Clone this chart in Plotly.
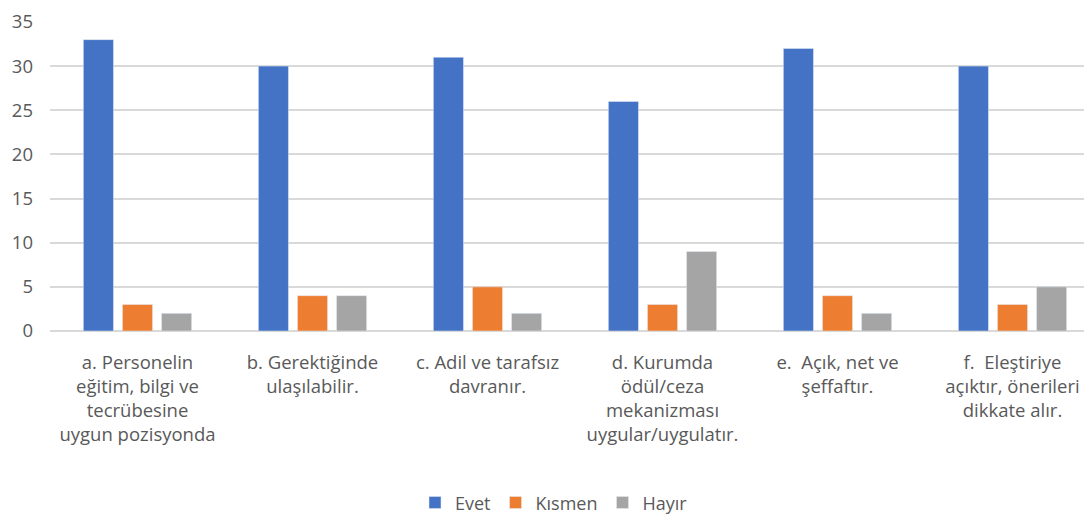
import plotly.graph_objects as go

categories = [
    "a. Personelin<br>eğitim, bilgi ve<br>tecrübesine<br>uygun pozisyonda",
    "b. Gerektiğinde<br>ulaşılabilir.",
    "c. Adil ve tarafsız<br>davranır.",
    "d. Kurumda<br>ödül/ceza<br>mekanizması<br>uygular/uygulatır.",
    "e.  Açık, net ve<br>şeffaftır.",
    "f.  Eleştiriye<br>açıktır, önerileri<br>dikkate alır.",
]
evet = [33, 30, 31, 26, 32, 30]
kismen = [3, 4, 5, 3, 4, 3]
hayir = [2, 4, 2, 9, 2, 5]

font = "Open Sans"
grey = "#595959"

fig = go.Figure()
fig.add_trace(go.Bar(name="Evet", x=categories, y=evet, marker_color="#4472C4"))
fig.add_trace(go.Bar(name="Kısmen", x=categories, y=kismen, marker_color="#ED7D31"))
fig.add_trace(go.Bar(name="Hayır", x=categories, y=hayir, marker_color="#A5A5A5"))

fig.update_layout(
    width=1092, height=517,
    barmode="group", bargap=0.33, bargroupgap=0.23,
    margin=dict(l=42, r=0, t=13, b=194, autoexpand=False),
    plot_bgcolor="white", paper_bgcolor="white",
    font=dict(family=font, color=grey, size=18),
    showlegend=True,
    legend=dict(orientation="h", x=0.5, xref="container", xanchor="center",
                y=0.043, yref="container", yanchor="middle",
                font=dict(size=18, color=grey), itemwidth=30),
)
fig.update_xaxes(range=[-0.5, 5.5], showline=False, ticks="", tickfont=dict(size=18.5, color=grey),
                 tickangle=0, automargin=False, ticklabelstandoff=18)
fig.update_yaxes(range=[0, 35.11], tick0=0, dtick=5, gridcolor="#D9D9D9", gridwidth=2, zeroline=True,
                 zerolinecolor="#D9D9D9", zerolinewidth=2, tickfont=dict(size=18.5, color=grey),
                 ticks="", ticklabelstandoff=16, ticklabeloverflow="allow", automargin=False)

fig.write_html("out.html")
